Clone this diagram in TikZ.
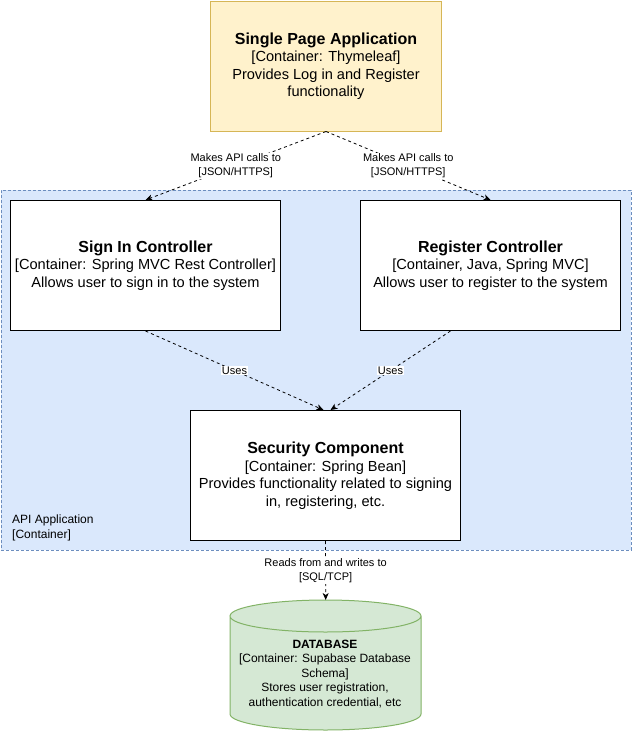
\documentclass[tikz,border=0pt]{standalone}
\usepackage{fontspec}
\setmainfont{Liberation Sans}
\usetikzlibrary{arrows.meta}
\definecolor{yfill}{HTML}{FFF2CC}
\definecolor{ydraw}{HTML}{D6B656}
\definecolor{bfill}{HTML}{DAE8FC}
\definecolor{bdraw}{HTML}{6C8EBF}
\definecolor{gfill}{HTML}{D5E8D4}
\definecolor{gdraw}{HTML}{82B366}
\tikzset{
  mainfont/.style={font=\fontsize{14.6}{17.5}\selectfont, align=center, text=black},
  box/.style={mainfont, draw=black, fill=white, line width=1pt, inner sep=0pt, anchor=north west},
  link/.style={draw=black, dashed, dash pattern=on 3pt off 3pt, line width=0.8pt, -{Stealth[length=7pt,width=6pt,inset=2pt]}},
  lbl/.style={font=\fontsize{11}{14}\selectfont, align=center, fill=white, inner sep=1pt, text=black},
}
\newcommand{\ttl}[1]{{\fontsize{16}{19}\selectfont\bfseries #1}}
\begin{document}
\begin{tikzpicture}[x=1pt,y=-1pt]
\useasboundingbox (0,0) rectangle (632,731);
% API application region
\node[draw=bdraw, fill=bfill, dashed, dash pattern=on 3pt off 2pt, line width=0.8pt, minimum width=630pt, minimum height=360pt, inner sep=0pt, anchor=north west] (api) at (0.5,190) {};
\node[font=\fontsize{12}{15}\selectfont, align=left, anchor=base west, inner sep=0pt] (apilbl) at (12,538) {API Application\\ {[Container]}};
% SPA
\node[box, draw=ydraw, fill=yfill, minimum width=231pt, minimum height=130pt] (spa) at (210,0.5)
  {\ttl{Single Page Application}\\ {[Container: Thymeleaf]}\\ Provides Log in and Register\\ functionality};
% Sign in
\node[box, minimum width=270pt, minimum height=130pt] (signin) at (10,200)
  {\ttl{Sign In Controller}\\ {[Container: Spring MVC Rest Controller]}\\ Allows user to sign in to the system};
% Register
\node[box, minimum width=260pt, minimum height=130pt] (reg) at (360,200)
  {\ttl{Register Controller}\\ {[Container, Java, Spring MVC]}\\ Allows user to register to the system};
% Security
\node[box, minimum width=270pt, minimum height=130pt] (sec) at (190,410)
  {\ttl{Security Component}\\ {[Container: Spring Bean]}\\ Provides functionality related to signing\\ in, registering, etc.};
% Database
\node[minimum width=191pt, minimum height=130pt, inner sep=0pt, anchor=north west] (db) at (230,600) {};
\fill[gfill] (db.north west) ++(0,16) -- ++(0,98) arc[start angle=180, end angle=0, x radius=95.5, y radius=16] -- ++(0,-98) arc[start angle=0, end angle=-180, x radius=95.5, y radius=16] -- cycle;
\draw[gdraw, line width=1pt] (db.north west) ++(0,16) -- ++(0,98) arc[start angle=180, end angle=0, x radius=95.5, y radius=16] -- ++(0,-98) arc[start angle=0, end angle=-180, x radius=95.5, y radius=16] arc[start angle=180, end angle=0, x radius=95.5, y radius=16];
\node[font=\fontsize{12}{14.5}\selectfont, align=center, inner sep=0pt] (dbtext) at (325,674)
  {\textbf{DATABASE}\\ {[Container: Supabase Database}\\ Schema]\\ Stores user registration,\\ authentication credential, etc};
% Connectors
\draw[link] (spa.south) -- node[lbl] {Makes API calls to\\ {[JSON/HTTPS]}} (signin.north);
\draw[link] (spa.south) -- node[lbl] {Makes API calls to\\ {[JSON/HTTPS]}} (reg.north);
\draw[link] (signin.south) -- node[lbl] {Uses} ([xshift=-2pt]sec.north);
\draw[link] ([xshift=-40pt]reg.south) -- node[lbl] {Uses} ([xshift=5pt]sec.north);
\draw[link] (sec.south) -- node[lbl] {Reads from and writes to\\ {[SQL/TCP]}} (db.north);
\end{tikzpicture}
\end{document}
